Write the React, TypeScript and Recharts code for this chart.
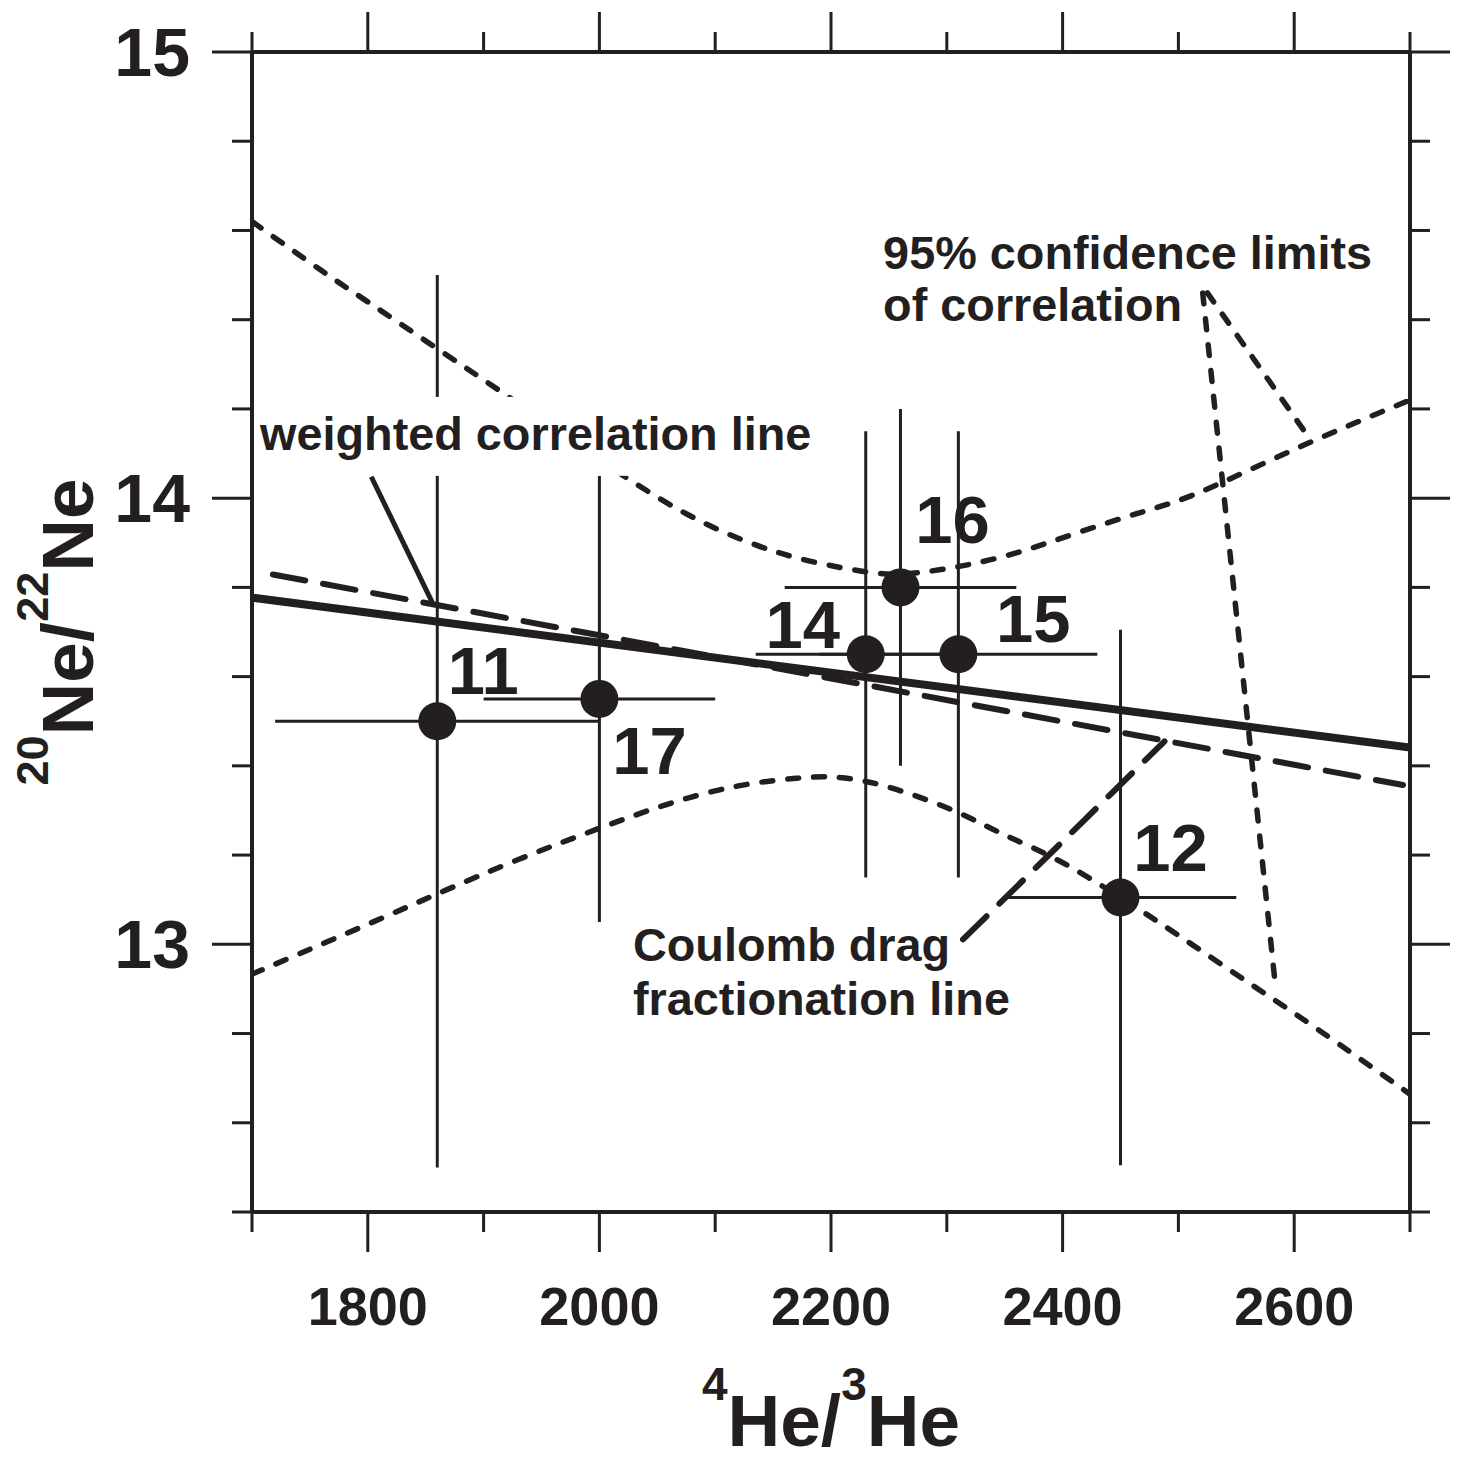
import React from 'react';
import {
  ComposedChart,
  XAxis,
  YAxis,
  Line,
  Scatter,
  ErrorBar,
  ReferenceArea,
  ReferenceDot,
  ReferenceLine,
} from 'recharts';

const INK = '#231f20';
const FONT = '"Liberation Sans", Arial, Helvetica, sans-serif';

// ---------------- data ----------------
const sampleIds = ['11', '17', '14', '16', '15', '12'];
const he4he3 = [1860, 2000, 2230, 2260, 2310, 2450];
const he4he3Err = [140, 100, 95, 100, 120, 100];
const ne20ne22 = [13.5, 13.55, 13.65, 13.8, 13.65, 13.105];
const ne20ne22Err = [1.0, 0.5, 0.5, 0.4, 0.5, 0.6];

const xTicks = [1700, 1800, 1900, 2000, 2100, 2200, 2300, 2400, 2500, 2600, 2700];
const yTicks = [12.4, 12.6, 12.8, 13, 13.2, 13.4, 13.6, 13.8, 14, 14.2, 14.4, 14.6, 14.8, 15];

const weightedX = [1700, 2700];
const weightedY = [13.777, 13.441];

const coulombX = [1718, 2694];
const coulombY = [13.829, 13.357];

const upperX = [1700, 1760, 1800, 1860, 1920, 1970, 2018, 2075, 2130, 2180, 2230, 2260, 2295, 2350, 2410, 2470, 2520, 2605, 2700];
const upperY = [14.62, 14.51, 14.44, 14.335, 14.23, 14.14, 14.055, 13.965, 13.9, 13.86, 13.835, 13.83, 13.84, 13.87, 13.92, 13.97, 14.015, 14.115, 14.22];

const lowerX = [1700, 1800, 1860, 1930, 2000, 2060, 2120, 2170, 2200, 2230, 2265, 2310, 2350, 2395, 2450, 2500, 2560, 2620, 2700];
const lowerY = [12.933, 13.045, 13.113, 13.19, 13.26, 13.315, 13.355, 13.372, 13.375, 13.365, 13.34, 13.295, 13.245, 13.19, 13.105, 13.02, 12.915, 12.81, 12.664];

// annotation pointers (data units)
const weightedPointer = [{ x: 1803, y: 14.048 }, { x: 1857, y: 13.759 }];
const confPointerA = [{ x: 2525, y: 14.46 }, { x: 2614, y: 14.131 }];
const confPointerB = [{ x: 2521, y: 14.46 }, { x: 2583, y: 12.926 }];
const coulombPointer = [{ x: 2314, y: 13.011 }, { x: 2488, y: 13.455 }];

// annotation anchors (data units)
const weightedBox = { x1: 1703.5, x2: 2187, y1: 14.05, y2: 14.227 };
const confTextAnchor = { x: 2245, y: 14.514 };
const coulombTextAnchor = { x: 2029, y: 12.962 };

// ---------------- styling (not data) ----------------
const labelOffsets: Record<string, [number, number]> = {
  '11': [46, -51],
  '17': [50, 51],
  '14': [-63, -30],
  '16': [52, -68],
  '15': [75, -36],
  '12': [50, -50],
};

const points = sampleIds.map((id, i) => ({
  id,
  x: he4he3[i],
  y: ne20ne22[i],
  ex: he4he3Err[i],
  ey: ne20ne22Err[i],
}));
const toXY = (xs: number[], ys: number[]) => xs.map((x, i) => ({ x, y: ys[i] }));
const weightedData = toXY(weightedX, weightedY);
const coulombData = toXY(coulombX, coulombY);
const upperData = toXY(upperX, upperY);
const lowerData = toXY(lowerX, lowerY);

const MAJOR = 40;
const MINOR = 20;
const TICK_W = 3;

const BottomTick = (props: any) => {
  const { x, y, payload } = props;
  const v = payload.value;
  const major = v % 200 === 0;
  return (
    <g>
      <line x1={x} x2={x} y1={y} y2={y + (major ? MAJOR : MINOR)} stroke={INK} strokeWidth={TICK_W} />
      {major ? (
        <text x={x} y={y + 113} textAnchor="middle" fontFamily={FONT} fontWeight={700} fontSize={54} fill={INK}>
          {v}
        </text>
      ) : null}
    </g>
  );
};

const TopTick = (props: any) => {
  const { x, y, payload } = props;
  const major = payload.value % 200 === 0;
  return <line x1={x} x2={x} y1={y} y2={y - (major ? MAJOR : MINOR)} stroke={INK} strokeWidth={TICK_W} />;
};

const isMajorY = (v: number) => Math.abs(v - Math.round(v)) < 1e-6;

const LeftTick = (props: any) => {
  const { x, y, payload } = props;
  const v = payload.value;
  const major = isMajorY(v);
  return (
    <g>
      <line x1={x} x2={x - (major ? MAJOR : MINOR)} y1={y} y2={y} stroke={INK} strokeWidth={TICK_W} />
      {major ? (
        <text x={x - 62} y={y + 24} textAnchor="end" fontFamily={FONT} fontWeight={700} fontSize={68} fill={INK}>
          {Math.round(v)}
        </text>
      ) : null}
    </g>
  );
};

const RightTick = (props: any) => {
  const { x, y, payload } = props;
  const major = isMajorY(payload.value);
  return <line x1={x} x2={x + (major ? MAJOR : MINOR)} y1={y} y2={y} stroke={INK} strokeWidth={TICK_W} />;
};

const XTitle = (props: any) => {
  const vb = props && props.viewBox ? props.viewBox : { x: 244, y: 1204, width: 1158, height: 249 };
  const cx = vb.x + vb.width / 2;
  const by = vb.y + 234;
  return (
    <text x={cx} y={by} textAnchor="middle" fontFamily={FONT} fontWeight={700} fontSize={73} fill={INK}>
      <tspan fontSize={46} dy={-46}>4</tspan>
      <tspan dy={46}>He/</tspan>
      <tspan fontSize={46} dy={-46}>3</tspan>
      <tspan dy={46}>He</tspan>
    </text>
  );
};

const YTitle = (props: any) => {
  const vb = props && props.viewBox ? props.viewBox : { x: 0, y: 44, width: 244, height: 1160 };
  const cx = vb.x + 85;
  const cy = vb.y + vb.height / 2;
  return (
    <text
      x={cx}
      y={cy}
      transform={`rotate(-90 ${cx} ${cy})`}
      textAnchor="middle"
      fontFamily={FONT}
      fontWeight={700}
      fontSize={73}
      fill={INK}
    >
      <tspan fontSize={45} dy={-45}>20</tspan>
      <tspan dy={45}>Ne/</tspan>
      <tspan fontSize={45} dy={-45}>22</tspan>
      <tspan dy={45}>Ne</tspan>
    </text>
  );
};

const PointShape = (props: any) => {
  const { cx, cy, payload } = props;
  const off = labelOffsets[payload.id] || [0, 0];
  return (
    <g>
      <circle cx={cx} cy={cy} r={19} fill={INK} />
      <text
        x={cx + off[0]}
        y={cy + off[1] + 24}
        textAnchor="middle"
        fontFamily={FONT}
        fontWeight={700}
        fontSize={67}
        fill={INK}
      >
        {payload.id}
      </text>
    </g>
  );
};

const annoText = {
  fontFamily: FONT,
  fontWeight: 700,
  fontSize: 46.8,
  fill: INK,
} as const;

const WeightedBoxShape = (props: any) => {
  const { x, y, width, height } = props;
  return (
    <g>
      <rect x={x} y={y} width={width} height={height} fill="#ffffff" stroke="none" />
      <text x={x + 4} y={y + 53} {...annoText}>
        weighted correlation line
      </text>
    </g>
  );
};

const ConfText = (props: any) => {
  const { cx, cy } = props;
  return (
    <g>
      <text x={cx} y={cy} {...annoText}>95% confidence limits</text>
      <text x={cx} y={cy + 52} {...annoText}>of correlation</text>
    </g>
  );
};

const CoulombText = (props: any) => {
  const { cx, cy } = props;
  return (
    <g>
      <text x={cx} y={cy} {...annoText}>Coulomb drag</text>
      <text x={cx} y={cy + 54} {...annoText}>fractionation line</text>
    </g>
  );
};

const SHORT_DASH = '11 15';
const LONG_DASH = '33 18';
const CURVE_W = 5.5;
const LONG_W = 6;

export default function App() {
  return (
    <div style={{ width: 1454, height: 1453, background: '#ffffff' }}>
      <style>{'svg.recharts-surface{overflow:visible}'}</style>
      <ComposedChart width={1454} height={1453} margin={{ top: 0, right: 0, bottom: 0, left: 0 }}>
        <XAxis
          dataKey="x"
          type="number"
          domain={[1700, 2700]}
          ticks={xTicks}
          interval={0}
          allowDataOverflow
          height={249}
          tickSize={0}
          tickMargin={0}
          tickLine={false}
          axisLine={{ stroke: INK, strokeWidth: 4 }}
          tick={(p: any) => <BottomTick {...p} />}
          label={(p: any) => <XTitle {...p} />}
        />
        <XAxis
          xAxisId="top"
          orientation="top"
          dataKey="x"
          type="number"
          domain={[1700, 2700]}
          ticks={xTicks}
          interval={0}
          allowDataOverflow
          height={44}
          tickSize={0}
          tickMargin={0}
          tickLine={false}
          axisLine={{ stroke: INK, strokeWidth: 4 }}
          tick={(p: any) => <TopTick {...p} />}
        />
        <YAxis
          dataKey="y"
          type="number"
          domain={[12.4, 15]}
          ticks={yTicks}
          interval={0}
          allowDataOverflow
          width={244}
          tickSize={0}
          tickMargin={0}
          tickLine={false}
          axisLine={{ stroke: INK, strokeWidth: 4 }}
          tick={(p: any) => <LeftTick {...p} />}
          label={(p: any) => <YTitle {...p} />}
        />
        <YAxis
          yAxisId="right"
          orientation="right"
          dataKey="y"
          type="number"
          domain={[12.4, 15]}
          ticks={yTicks}
          interval={0}
          allowDataOverflow
          width={52}
          tickSize={0}
          tickMargin={0}
          tickLine={false}
          axisLine={{ stroke: INK, strokeWidth: 4 }}
          tick={(p: any) => <RightTick {...p} />}
        />

        <Line
          data={upperData}
          dataKey="y"
          type="natural"
          stroke={INK}
          strokeWidth={CURVE_W}
          strokeDasharray={SHORT_DASH}
          strokeLinecap="round"
          dot={false}
          activeDot={false}
          isAnimationActive={false}
        />
        <Line
          data={lowerData}
          dataKey="y"
          type="natural"
          stroke={INK}
          strokeWidth={CURVE_W}
          strokeDasharray={SHORT_DASH}
          strokeLinecap="round"
          dot={false}
          activeDot={false}
          isAnimationActive={false}
        />
        <Line
          data={coulombData}
          dataKey="y"
          type="linear"
          stroke={INK}
          strokeWidth={LONG_W}
          strokeDasharray={LONG_DASH}
          strokeLinecap="round"
          dot={false}
          activeDot={false}
          isAnimationActive={false}
        />
        <Line
          data={weightedData}
          dataKey="y"
          type="linear"
          stroke={INK}
          strokeWidth={8}
          dot={false}
          activeDot={false}
          isAnimationActive={false}
        />

        <Scatter data={points} dataKey="y" shape={(p: any) => <PointShape {...p} />} isAnimationActive={false}>
          <ErrorBar dataKey="ex" direction="x" width={0} stroke={INK} strokeWidth={3} isAnimationActive={false} />
          <ErrorBar dataKey="ey" direction="y" width={0} stroke={INK} strokeWidth={3} isAnimationActive={false} />
        </Scatter>

        <ReferenceLine
          segment={confPointerA}
          stroke={INK}
          strokeWidth={CURVE_W}
          strokeDasharray={SHORT_DASH}
          strokeLinecap="round"
          ifOverflow="visible"
        />
        <ReferenceLine
          segment={confPointerB}
          stroke={INK}
          strokeWidth={CURVE_W}
          strokeDasharray={SHORT_DASH}
          strokeLinecap="round"
          ifOverflow="visible"
        />
        <ReferenceLine
          segment={coulombPointer}
          stroke={INK}
          strokeWidth={LONG_W}
          strokeDasharray={LONG_DASH}
          strokeLinecap="round"
          ifOverflow="visible"
        />

        <ReferenceArea
          x1={weightedBox.x1}
          x2={weightedBox.x2}
          y1={weightedBox.y1}
          y2={weightedBox.y2}
          ifOverflow="visible"
          shape={(p: any) => <WeightedBoxShape {...p} />}
          {...({ zIndex: 1500 } as any)}
        />
        <ReferenceLine
          segment={weightedPointer}
          stroke={INK}
          strokeWidth={5}
          ifOverflow="visible"
          {...({ zIndex: 1550 } as any)}
        />
        <ReferenceDot
          x={confTextAnchor.x}
          y={confTextAnchor.y}
          r={0}
          ifOverflow="visible"
          shape={(p: any) => <ConfText {...p} />}
          {...({ zIndex: 1600 } as any)}
        />
        <ReferenceDot
          x={coulombTextAnchor.x}
          y={coulombTextAnchor.y}
          r={0}
          ifOverflow="visible"
          shape={(p: any) => <CoulombText {...p} />}
          {...({ zIndex: 1600 } as any)}
        />
      </ComposedChart>
    </div>
  );
}
